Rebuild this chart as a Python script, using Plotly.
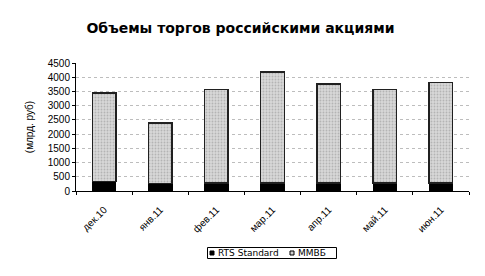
import plotly.graph_objects as go

months = ["дек.10", "янв.11", "фев.11", "мар.11", "апр.11", "май.11", "июн.11"]
rts = [330, 270, 290, 290, 290, 290, 290]
total = [3450, 2390, 3560, 4180, 3770, 3560, 3810]
micex = [t - r for t, r in zip(total, rts)]
y_ticks = [0, 500, 1000, 1500, 2000, 2500, 3000, 3500, 4000, 4500]
series_names = ["RTS Standard", "ММВБ"]

font = "Liberation Sans, Arial, sans-serif"
W, H = 485, 276
L, R, T, B = 76, 16, 63, 85
PW, PH = W - L - R, H - T - B


def px(xpix):
    return (xpix - L) / PW


def py(ypix):
    return (H - B - ypix) / PH


fig = go.Figure()
fig.add_trace(go.Bar(
    x=months, y=rts, name=series_names[0], showlegend=False,
    marker=dict(color="#000000", line=dict(color="#000000", width=1)),
    width=0.42,
))
fig.add_trace(go.Bar(
    x=months, y=micex, name=series_names[1], showlegend=False,
    marker=dict(
        color="#c8c8c8",
        line=dict(color="#202020", width=1.5),
        pattern=dict(shape=".", fgcolor="#909090", bgcolor="#d8d8d8", size=3, solidity=0.3),
    ),
    width=0.42,
))

# hand-built legend (box, swatches, labels)
shapes = [
    dict(type="rect", xref="paper", yref="paper",
         x0=px(207.5), x1=px(336.5), y0=py(258.5), y1=py(247.5),
         line=dict(color="#000000", width=1), fillcolor="white"),
    dict(type="rect", xref="paper", yref="paper",
         x0=px(210), x1=px(214), y0=py(255), y1=py(251),
         line=dict(color="#000000", width=1), fillcolor="#000000"),
    dict(type="rect", xref="paper", yref="paper",
         x0=px(290), x1=px(294), y0=py(255), y1=py(251),
         line=dict(color="#000000", width=1), fillcolor="#d0d0d0"),
]
annotations = [
    dict(text=series_names[0], xref="paper", yref="paper", x=px(215.5), y=py(253),
         xanchor="left", yanchor="middle", showarrow=False,
         font=dict(family="DejaVu Sans, sans-serif", size=9, color="#000000")),
    dict(text=series_names[1], xref="paper", yref="paper", x=px(295.5), y=py(253),
         xanchor="left", yanchor="middle", showarrow=False,
         font=dict(family="DejaVu Sans, sans-serif", size=9, color="#000000")),
]

fig.update_layout(
    width=W, height=H,
    barmode="stack",
    margin=dict(l=L, r=R, t=T, b=B),
    paper_bgcolor="white", plot_bgcolor="white",
    font=dict(family=font, size=9, color="#000000"),
    title=dict(
        text="<b>Объемы торгов российскими акциями</b>",
        xref="container", x=240.5 / W, xanchor="center",
        yref="container", y=1 - 28 / H, yanchor="middle",
        font=dict(family="DejaVu Sans, sans-serif", size=14, color="#000000"),
    ),
    showlegend=False,
    shapes=shapes,
    annotations=annotations,
    bargap=0.58,
)

fig.update_xaxes(
    type="category",
    showline=True, linecolor="#000000", linewidth=1,
    ticks="outside", ticklen=3, tickcolor="#000000",
    tickson="boundaries",
    tickangle=-45,
    ticklabelstandoff=8,
    tickfont=dict(family=font, size=10),
    showgrid=False,
)
fig.update_yaxes(
    range=[0, 4500],
    tickvals=y_ticks,
    ticktext=[str(v) for v in y_ticks],
    showline=True, linecolor="#000000", linewidth=1,
    ticks="outside", ticklen=3, tickcolor="#000000",
    showgrid=True, gridcolor="#bdbdbd", griddash="3px,3px", gridwidth=1,
    tickfont=dict(family=font, size=10),
    title=dict(text="(млрд. руб)", font=dict(family=font, size=10), standoff=12),
    zeroline=False,
)

fig.write_html("out.html")
